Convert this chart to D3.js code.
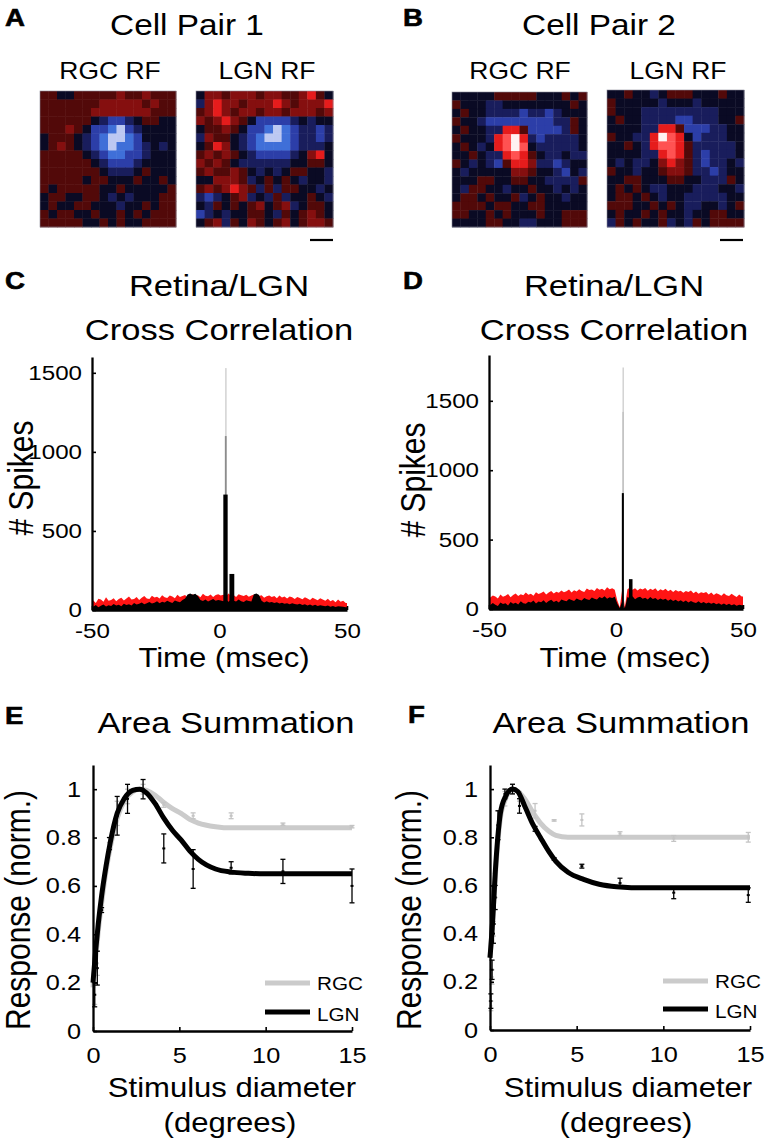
<!DOCTYPE html>
<html><head><meta charset="utf-8">
<script src="https://cdn.jsdelivr.net/npm/d3@7"></script>
<style>
body{margin:0;background:#fff}
svg{display:block}
text{font-family:'Liberation Sans',Arial,Helvetica,sans-serif;fill:#000}
</style>
</head><body><svg id="fig" width="766" height="1144"></svg>
<script>
// ---------------- DATA ----------------
// Receptive-field maps (16x16, signed level: negative = blue/OFF, positive = red/ON)
const rfA_RGC = [
[1,1,0,0,1,1,1,1,1,2,1,1,2,1,1,1],
[1,1,1,1,1,1,1,2,2,2,2,2,1,2,1,1],
[1,1,1,1,1,1,2,2,2,2,2,2,2,1,1,1],
[1,1,1,1,1,1,0,-1,-2,-2,-1,0,1,1,0,0],
[1,1,1,2,1,0,-2,-2,-3,-4,-2,-1,0,0,0,0],
[0,1,1,1,0,-1,-2,-3,-4,-4,-3,-2,0,0,0,0],
[0,1,2,1,0,-1,-2,-3,-4,-3,-3,-2,-1,0,-1,0],
[1,1,1,1,1,0,-1,-2,-3,-3,-2,-2,-1,0,0,0],
[1,1,1,1,1,1,0,-1,-2,-2,-2,-1,0,0,0,0],
[1,1,1,1,1,1,1,0,-1,-1,-1,0,1,0,0,0],
[1,1,1,1,1,0,1,1,0,0,0,1,0,0,1,0],
[1,0,1,1,1,1,1,0,0,1,0,0,0,0,0,1],
[0,1,1,0,0,1,1,0,-1,0,-1,0,0,0,1,1],
[0,1,0,0,1,1,0,0,0,-1,0,0,1,0,1,1],
[1,0,1,1,0,0,1,0,0,1,0,1,0,1,1,1],
[1,1,1,1,1,0,0,1,0,1,0,0,1,1,1,1]];
const rfA_LGN = [
[0,2,2,1,2,2,2,1,2,2,1,1,2,3,1,0],
[-1,2,3,2,2,1,2,2,2,3,2,1,2,2,2,3],
[1,2,3,2,1,2,2,1,2,2,1,2,2,2,1,2],
[2,1,2,3,2,1,0,-2,-2,-2,-2,-1,0,-1,0,0],
[0,1,1,2,1,0,-2,-2,-3,-4,-3,-2,-1,-1,-2,-1],
[-1,2,1,1,0,-1,-2,-3,-4,-4,-3,-2,-1,-1,-2,-1],
[0,1,3,2,0,-1,-2,-3,-3,-3,-3,-2,-1,-1,-1,0],
[1,2,1,2,1,0,-1,-2,-2,-2,-2,-1,0,2,3,0],
[2,1,2,1,0,-1,-1,-1,-1,-1,-1,0,0,1,1,0],
[1,2,1,1,2,1,0,-1,0,-1,0,1,1,0,0,-1],
[0,0,2,2,2,1,-1,0,1,0,1,0,-1,0,0,-1],
[1,2,1,2,3,2,1,-1,1,-1,1,1,0,0,-1,0],
[-1,-2,-1,0,1,2,-1,0,-1,1,-1,0,0,1,0,-1],
[0,-1,1,0,1,0,1,2,0,1,2,-1,0,1,1,0],
[-2,-1,0,-1,0,0,1,1,0,-1,1,0,1,2,1,0],
[0,1,2,-1,1,0,2,1,0,1,2,0,1,2,2,1]];
const rfB_RGC = [
[0,0,0,0,0,1,1,1,1,1,0,0,0,1,0,1],
[1,0,0,0,-1,-1,0,0,0,0,0,0,0,0,1,0],
[0,1,0,0,-1,-1,-1,-1,-2,-1,-1,-2,-1,0,0,0],
[1,0,0,-1,-2,-2,-2,-2,-2,-2,-2,-2,-1,-1,1,0],
[0,1,0,0,-1,-1,3,3,1,-2,-2,-2,-2,-1,1,0],
[1,0,0,0,-1,3,4,5,3,-1,-2,-1,-1,-1,-1,0],
[0,1,0,-1,0,3,4,5,4,0,-1,-1,-1,-1,-1,0],
[0,0,1,0,-1,-1,3,4,3,1,0,-1,-1,0,-1,-1],
[1,0,-1,0,-1,-2,1,3,3,2,-1,-1,-2,-1,0,0],
[0,-1,0,0,0,0,0,2,2,1,0,0,-1,-2,0,-1],
[0,0,0,1,1,0,0,1,1,0,0,-1,-1,-1,-1,1],
[0,-1,1,1,0,0,-1,0,0,1,0,0,-1,0,-1,0],
[0,1,1,0,1,0,0,1,-1,0,1,0,0,-1,0,0],
[1,1,1,1,0,1,1,0,0,1,1,0,0,0,0,0],
[1,1,0,0,1,0,1,0,0,0,1,0,0,1,1,1],
[0,0,0,0,1,1,0,0,-1,-1,0,0,0,1,1,1]];
const rfB_LGN = [
[0,0,1,0,0,-1,0,1,1,1,0,0,0,1,0,0],
[1,0,0,0,0,0,-1,0,0,0,-1,0,0,0,0,0],
[1,0,0,0,-1,-1,-1,-1,-1,-1,-1,-1,-1,0,0,0],
[0,1,0,0,-1,-1,-1,-1,-2,-2,-1,-1,-1,0,0,1],
[0,0,0,0,-1,-1,3,3,1,-2,-2,-2,-1,-1,0,0],
[1,0,0,-1,-1,3,5,4,3,0,-2,-1,-1,-1,0,0],
[0,0,1,0,-1,3,4,4,3,1,-1,-1,-1,-1,-1,0],
[0,0,0,0,-1,-1,3,4,3,1,-1,-2,-1,-1,-1,0],
[0,-1,0,-1,-1,0,2,3,2,1,-1,-2,-1,-1,0,-1],
[1,0,0,-1,0,0,1,2,2,1,-1,-1,-2,-1,0,0],
[0,0,1,1,0,0,0,1,1,0,0,-1,-1,-1,1,0],
[0,1,0,1,0,-1,-1,0,0,0,-1,-1,-1,0,0,-1],
[0,1,1,0,1,0,-1,0,0,-1,-1,-1,-1,-1,0,0],
[1,1,1,0,0,1,0,1,0,-1,-1,0,0,-1,0,1],
[0,1,0,0,1,0,1,0,0,-1,0,0,1,1,0,0],
[-1,1,0,1,0,0,1,-1,0,-1,1,0,1,1,1,1]];

// Cross-correlograms: 1-ms bins from -50 to +49 ms (bin start times)
const binStarts = d3.range(-50, 50, 1);
const ccC_black = [20,32,18,27,35,22,30,25,38,28, 33,24,40,31,36,29,44,34,39,47, 37,42,50,41,46,55,43,52,48,58, 51,45,60,54,49,63,72,98,104,96, 102,88,64,57,66,53,61,70,58,64,
                   60,55,66,52,63,58,54,67,56,50, 62,57,53,99,104,95,58,48,55,47, 51,44,49,41,46,39,43,36,42,38, 34,40,31,37,29,35,27,33,25,30, 27,23,29,21,26,19,24,22,20,17];
const ccC_red   = [60,45,71,66,52,80,58,63,74,55, 69,78,60,72,85,66,70,82,64,77, 88,73,69,90,79,84,72,94,81,76, 92,86,74,97,83,89,95,78,91,99, 85,94,80,102,90,87,98,83,95,100,
                   92,97,86,104,90,95,83,99,93,88, 96,84,91,98,80,89,94,77,87,92, 82,88,75,91,79,85,72,86,80,70, 83,76,68,81,73,64,78,70,62,74, 66,58,71,55,63,49,67,52,58,45];
const ccD_black = [28,44,31,22,47,36,41,26,50,38, 45,33,56,42,37,52,46,61,39,54, 49,63,44,57,66,51,59,47,68,61, 55,72,64,58,76,67,62,79,70,65, 83,74,68,87,77,91,73,84,79,88,
                   40,5,60,5,86,77,91,70,83,88, 74,81,69,86,72,79,64,76,67,73, 59,71,57,66,54,63,51,61,47,58, 49,44,56,41,51,39,47,37,45,34, 41,31,39,29,37,27,34,24,31,27];
const ccD_red   = [82,98,90,76,104,88,95,108,84,100, 112,94,106,99,118,103,110,96,121,108, 115,126,104,119,130,112,124,117,133,121, 128,140,119,135,126,143,130,122,147,136, 141,129,152,138,145,133,156,142,149,138,
                   62,12,150,14,142,155,139,150,133,147, 140,152,131,145,137,149,128,143,134,146, 127,139,122,136,126,131,117,129,122,133, 113,126,109,121,116,123,104,119,101,113, 107,96,114,99,93,109,97,87,104,90];
// Fine-resolution peak bins (start ms, end ms, count)
const peakC_start = [2.3, 2.1, 1.5, 3.9];
const peakC_end   = [2.7, 2.8, 3.2, 5.8];
const peakC_count = [1530, 1100, 730, 228];
const peakD_start = [2.6, 2.5, 2.3, 5.1];
const peakD_end   = [3.0, 3.1, 3.1, 6.5];
const peakD_count = [1740, 1420, 835, 215];

// Area summation: stimulus diameter (deg) and normalized responses
const diamE = [0.1, 0.25, 0.5, 0.95, 1.4, 2.0, 2.9, 4.1, 5.8, 8.0, 11.0, 15.0];
const lgnE  = [0.15, 0.26, 0.50, 0.775, 0.89, 0.96, 1.0, 0.755, 0.67, 0.675, 0.66, 0.60];
const lgnE_err = [0.05, 0.07, 0.01, 0.025, 0.08, 0.06, 0.04, 0.06, 0.08, 0.025, 0.05, 0.07];
const rgcE  = [0.15, 0.28, 0.51, 0.76, 0.90, 0.97, 1.0, 0.935, 0.89, 0.89, 0.855, 0.845];
const rgcE_err = [0.04, 0.05, 0.01, 0.02, 0.05, 0.03, 0.02, 0.01, 0.012, 0.012, 0.005, 0.005];
const fitE_x   = [0, 0.15, 0.3, 0.5, 0.75, 1.0, 1.4, 1.8, 2.3, 2.7, 3.1, 3.6, 4.1, 4.6, 5.1, 5.6, 6.1, 7.1, 8, 9, 10, 12, 15];
const fitE_lgn = [0.2, 0.33, 0.44, 0.56, 0.68, 0.78, 0.9, 0.96, 0.995, 1.0, 0.985, 0.94, 0.88, 0.83, 0.79, 0.745, 0.71, 0.67, 0.657, 0.652, 0.65, 0.65, 0.65];
const fitE_rgc = [0.18, 0.3, 0.41, 0.53, 0.66, 0.76, 0.88, 0.95, 0.99, 1.0, 0.995, 0.975, 0.945, 0.92, 0.9, 0.875, 0.86, 0.845, 0.84, 0.84, 0.84, 0.84, 0.84];

const diamF = [0.05, 0.12, 0.2, 0.3, 0.46, 0.86, 1.3, 1.7, 2.6, 3.7, 5.3, 7.5, 10.6, 14.9];
const lgnF  = [0.12, 0.25, 0.4, 0.55, 0.85, 0.98, 1.0, 0.93, 0.835, 0.71, 0.68, 0.61, 0.57, 0.56];
const lgnF_err = [0.03, 0.04, 0.04, 0.05, 0.06, 0.02, 0.02, 0.03, 0.01, 0.005, 0.008, 0.02, 0.025, 0.03];
const rgcF  = [0.1, 0.22, 0.42, 0.6, 0.85, 0.96, 1.0, 0.97, 0.91, 0.87, 0.872, 0.815, 0.795, 0.80];
const rgcF_err = [0.02, 0.03, 0.03, 0.05, 0.06, 0.03, 0.02, 0.02, 0.03, 0.003, 0.025, 0.008, 0.012, 0.02];
const fitF_x   = [0, 0.15, 0.3, 0.45, 0.6, 0.9, 1.3, 1.6, 2.0, 2.5, 2.9, 3.4, 3.8, 4.5, 5.4, 6.3, 7.3, 9, 12, 15];
const fitF_lgn = [0.3, 0.45, 0.65, 0.8, 0.9, 0.97, 1.0, 0.99, 0.93, 0.85, 0.8, 0.74, 0.70, 0.655, 0.625, 0.605, 0.595, 0.59, 0.59, 0.59];
const fitF_rgc = [0.3, 0.45, 0.63, 0.78, 0.88, 0.96, 1.0, 0.99, 0.96, 0.9, 0.86, 0.825, 0.808, 0.8, 0.8, 0.8, 0.8, 0.8, 0.8, 0.8];

const ccYTicks = [0, 500, 1000, 1500];
const ccXTicks = [-50, 0, 50];
const asYTicks = [0, 0.2, 0.4, 0.6, 0.8, 1];
const asXTicks = [0, 5, 10, 15];

// ---------------- DRAWING ----------------
const SX = 1.15; // horizontal glyph stretch of the original figure
const svg = d3.select('#fig');
svg.append('rect').attr('width', 766).attr('height', 1144).attr('fill', '#fff');

function label(x, y, s, size, opt = {}) {
  const t = svg.append('text')
    .attr('transform', `translate(${x},${y}) scale(${SX},1)` + (opt.rot ? ' rotate(-90)' : ''))
    .attr('text-anchor', opt.anchor || 'middle')
    .style('font-size', size + 'px')
    .text(s);
  if (opt.bold) t.style('font-weight', 'bold').attr('stroke', '#000').attr('stroke-width', 0.6);
  return t;
}

// RF colormap
const rfColor = d3.scaleLinear()
  .domain([-4, -3, -2, -1, 0, 1, 2, 3, 4, 5])
  .range(['#bcc8f2', '#3f6fd8', '#2c3ea8', '#191d5c', '#0a0a24', '#520909', '#850f0f', '#e61c1c', '#ff5252', '#fff2f2'])
  .clamp(true);

function drawRF(grid, x0, y0, w, h) {
  const n = grid.length;
  const bx = d3.scaleBand().domain(d3.range(n)).range([x0, x0 + w]);
  const by = d3.scaleBand().domain(d3.range(n)).range([y0, y0 + h]);
  const g = svg.append('g');
  grid.forEach((row, r) => row.forEach((v, c) => {
    g.append('rect').attr('x', bx(c)).attr('y', by(r))
      .attr('width', bx.bandwidth() + 0.4).attr('height', by.bandwidth() + 0.4)
      .attr('fill', rfColor(v));
  }));
  g.append('rect').attr('x', x0).attr('y', y0).attr('width', w).attr('height', h)
    .attr('fill', 'none').attr('stroke', '#8a8a9a').attr('stroke-width', 0.6);
}

// Panel A / B
label(5, 26, 'A', 24, {anchor: 'start', bold: true});
label(403, 26, 'B', 24, {anchor: 'start', bold: true});
label(187, 35, 'Cell Pair 1', 29);
label(599, 35, 'Cell Pair 2', 29);
label(110, 79, 'RGC RF', 23);
label(267, 79, 'LGN RF', 23);
label(520, 79, 'RGC RF', 23);
label(678, 79, 'LGN RF', 23);
drawRF(rfA_RGC, 40, 91, 136, 136);
drawRF(rfA_LGN, 196, 91, 137, 136);
drawRF(rfB_RGC, 452, 92, 135, 135);
drawRF(rfB_LGN, 607, 90, 137, 137);
svg.append('line').attr('x1', 310).attr('x2', 333).attr('y1', 240).attr('y2', 240).attr('stroke', '#000').attr('stroke-width', 2.2);
svg.append('line').attr('x1', 720).attr('x2', 743).attr('y1', 240).attr('y2', 240).attr('stroke', '#000').attr('stroke-width', 2.2);

function styleAxis(ag, size) {
  ag.attr('font-family', null).attr('font-size', null);
  ag.select('.domain').attr('stroke', '#000').attr('stroke-width', 2.3);
  ag.selectAll('.tick line').attr('stroke', '#000').attr('stroke-width', 1.6);
  ag.selectAll('.tick text').style('font-size', size + 'px').each(function () {
    const x = +this.getAttribute('x') || 0;
    this.setAttribute('transform', `translate(${x},0) scale(${SX},1) translate(${-x},0)`);
  });
}

const fmt = d => String(d);
function drawAxes(x, y, xTicks, yTicks, xPad, yPad, size) {
  const x0 = x.range()[0], y0 = y.range()[0];
  const gy = svg.append('g').attr('transform', `translate(${x0},0)`)
    .call(d3.axisLeft(y).tickValues(yTicks).tickSizeInner(-4).tickSizeOuter(0).tickPadding(yPad).tickFormat(fmt));
  styleAxis(gy, size);
  const gx = svg.append('g').attr('transform', `translate(0,${y0})`)
    .call(d3.axisBottom(x).tickValues(xTicks).tickSizeInner(-4).tickSizeOuter(0).tickPadding(xPad).tickFormat(fmt));
  styleAxis(gx, size);
}

// Cross-correlogram panel
function drawCC(opt) {
  const {x, y, black, red, pS, pE, pN} = opt;
  const clipId = opt.id;
  svg.append('clipPath').attr('id', clipId).append('rect')
    .attr('x', x.range()[0]).attr('y', y.range()[1]).attr('width', x.range()[1] - x.range()[0]).attr('height', y.range()[0] - y.range()[1]);
  const g = svg.append('g').attr('clip-path', `url(#${clipId})`);
  const pts = (vals) => [[-50, vals[0]]].concat(binStarts.map((t, i) => [t + 0.5, vals[i]])).concat([[50, vals[vals.length - 1]]]);
  const area = d3.area().x(d => x(d[0])).y0(y(0)).y1(d => y(d[1])).curve(d3.curveLinear);
  g.append('path').datum(pts(red)).attr('d', area).attr('fill', '#ff1414');
  g.append('path').datum(pts(black)).attr('d', area).attr('fill', '#000');
  // peak bins, tallest first
  const order = d3.range(pN.length).sort((a, b) => pN[b] - pN[a]);
  order.forEach(i => {
    const n = pN[i];
    const col = n > 1300 ? '#c2c2c2' : (n > 900 ? '#8c8c8c' : '#000');
    const w = Math.max(x(pE[i]) - x(pS[i]), 1.1);
    g.append('rect').attr('x', x(pS[i])).attr('width', w)
      .attr('y', y(n)).attr('height', y(0) - y(n)).attr('fill', col);
  });
  drawAxes(x, y, ccXTicks, ccYTicks, 13, 10, 21);
}

const xC = d3.scaleLinear().domain([-50, 50]).range([92, 347]);
const yC = d3.scaleLinear().domain([0, 1600]).range([610, 357]);
const xD = d3.scaleLinear().domain([-50, 50]).range([489, 743]);
const yD = d3.scaleLinear().domain([0, 1830]).range([609, 355]);

label(5, 289, 'C', 24, {anchor: 'start', bold: true});
label(403, 289, 'D', 24, {anchor: 'start', bold: true});
label(219, 296, 'Retina/LGN', 30);
label(219, 340, 'Cross Correlation', 30);
label(614, 296, 'Retina/LGN', 30);
label(614, 340, 'Cross Correlation', 30);
drawCC({x: xC, y: yC, black: ccC_black, red: ccC_red, pS: peakC_start, pE: peakC_end, pN: peakC_count, id: 'clipC'});
drawCC({x: xD, y: yD, black: ccD_black, red: ccD_red, pS: peakD_start, pE: peakD_end, pN: peakD_count, id: 'clipD'});
label(33, 478, '# Spikes', 30, {rot: true});
label(425, 480, '# Spikes', 30, {rot: true});
label(224, 667, 'Time (msec)', 27);
label(625, 667, 'Time (msec)', 27);

// Area summation panel
function drawAS(opt) {
  const {x, y, dx, lgn, lgnErr, rgc, rgcErr, fx, flgn, frgc} = opt;
  const line = d3.line().x(d => x(d[0])).y(d => y(d[1])).curve(d3.curveMonotoneX);
  const errBars = (vals, errs, col) => {
    const g = svg.append('g').attr('stroke', col).attr('stroke-width', 1.3).attr('fill', 'none');
    dx.forEach((d, i) => {
      const cx = x(d), yt = y(vals[i] + errs[i]), yb = y(vals[i] - errs[i]);
      g.append('line').attr('x1', cx).attr('x2', cx).attr('y1', yt).attr('y2', yb);
      g.append('line').attr('x1', cx - 2.5).attr('x2', cx + 2.5).attr('y1', yt).attr('y2', yt);
      g.append('line').attr('x1', cx - 2.5).attr('x2', cx + 2.5).attr('y1', yb).attr('y2', yb);
      g.append('line').attr('x1', cx - 1.5).attr('x2', cx + 1.5).attr('y1', y(vals[i])).attr('y2', y(vals[i])).attr('stroke-width', 2);
    });
  };
  svg.append('path').datum(fx.map((v, i) => [v, frgc[i]])).attr('d', line)
    .attr('fill', 'none').attr('stroke', '#cbcbcb').attr('stroke-width', 5);
  errBars(rgc, rgcErr, '#c4c4c4');
  svg.append('path').datum(fx.map((v, i) => [v, flgn[i]])).attr('d', line)
    .attr('fill', 'none').attr('stroke', '#000').attr('stroke-width', 5);
  errBars(lgn, lgnErr, '#000');
  drawAxes(x, y, asXTicks, asYTicks, 16, 12, 22);
  // legend
  const L = opt.leg;
  svg.append('line').attr('x1', L.x).attr('x2', L.x + 45).attr('y1', L.y1).attr('y2', L.y1).attr('stroke', '#cbcbcb').attr('stroke-width', 5);
  svg.append('line').attr('x1', L.x).attr('x2', L.x + 45).attr('y1', L.y2).attr('y2', L.y2).attr('stroke', '#000').attr('stroke-width', 5);
  label(L.x + 52, L.y1 + 7, 'RGC', 18, {anchor: 'start'});
  label(L.x + 52, L.y2 + 9, 'LGN', 18, {anchor: 'start'});
}

const xE = d3.scaleLinear().domain([0, 15]).range([93, 352]);
const yE = d3.scaleLinear().domain([0, 1.1]).range([1031, 765]);
const xF = d3.scaleLinear().domain([0, 15]).range([490, 750]);
const yF = d3.scaleLinear().domain([0, 1.1]).range([1030, 765]);

label(5, 724, 'E', 24, {anchor: 'start', bold: true});
label(408, 723, 'F', 24, {anchor: 'start', bold: true});
label(226, 733, 'Area Summation', 30);
label(621, 733, 'Area Summation', 30);
drawAS({x: xE, y: yE, dx: diamE, lgn: lgnE, lgnErr: lgnE_err, rgc: rgcE, rgcErr: rgcE_err, fx: fitE_x, flgn: fitE_lgn, frgc: fitE_rgc,
        leg: {x: 265, y1: 983, y2: 1012}});
drawAS({x: xF, y: yF, dx: diamF, lgn: lgnF, lgnErr: lgnF_err, rgc: rgcF, rgcErr: rgcF_err, fx: fitF_x, flgn: fitF_lgn, frgc: fitF_rgc,
        leg: {x: 663, y1: 981, y2: 1009}});
label(30, 910, 'Response (norm.)', 30, {rot: true});
label(421, 910, 'Response (norm.)', 30, {rot: true});
label(232, 1097, 'Stimulus diameter', 27);
label(230, 1132, '(degrees)', 27);
label(628, 1097, 'Stimulus diameter', 27);
label(626, 1132, '(degrees)', 27);
</script></body></html>
